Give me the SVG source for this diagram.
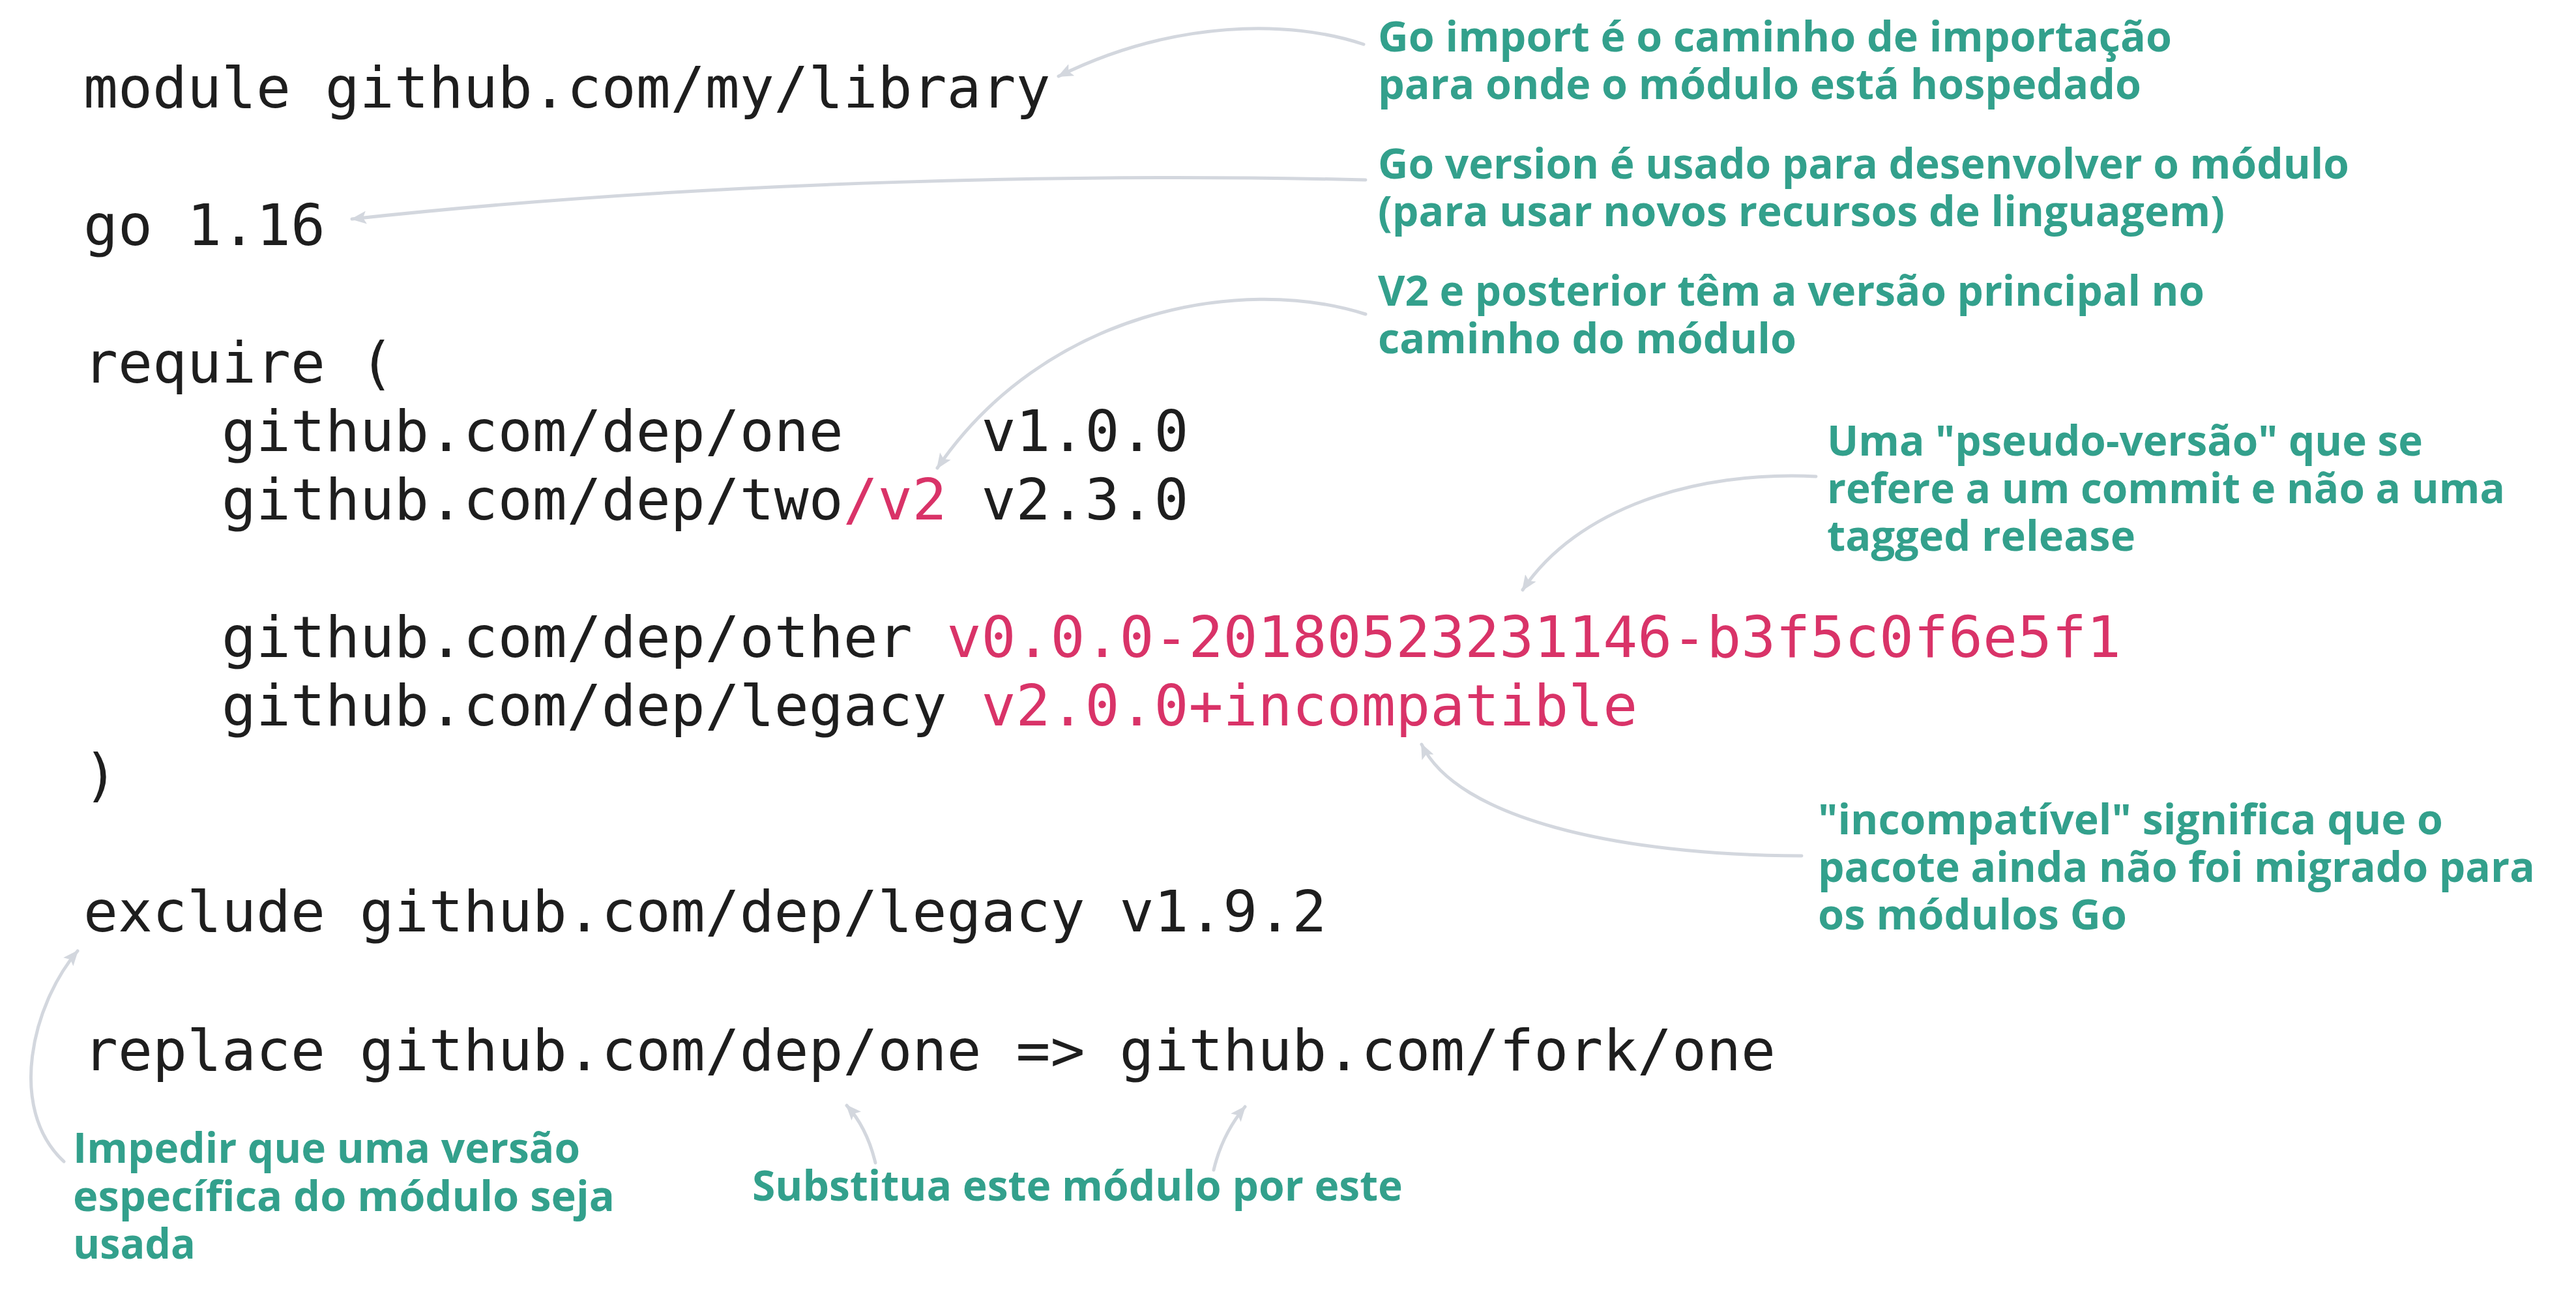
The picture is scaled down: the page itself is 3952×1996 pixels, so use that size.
<svg xmlns="http://www.w3.org/2000/svg" width="3952" height="1996" viewBox="0 0 3952 1996">
<style>
.code{font-family:"DejaVu Sans Mono","Liberation Mono",monospace;font-size:88px;fill:#1e1e1e}
.red{fill:#d93368}
.ann{font-family:"Open Sans","Noto Sans",sans-serif;font-weight:700;font-size:64px;fill:#33a08c}
.conn{fill:none;stroke:#d3d7de;stroke-width:5;stroke-linecap:round}
</style>
<defs>
<marker id="ah" viewBox="0 0 24 20" refX="22" refY="10" markerWidth="24" markerHeight="20" markerUnits="userSpaceOnUse" orient="auto">
<path d="M0,0 L24,10 L0,20 L5,10 z" fill="#d3d7de"/>
</marker>
</defs>
<rect width="3952" height="1996" fill="#ffffff"/>

<g id="code">
<text class="code" x="128" y="165">module github.com/my/library</text>
<text class="code" x="128" y="376">go 1.16</text>
<text class="code" x="128" y="587">require (</text>
<text class="code" x="340" y="692">github.com/dep/one</text>
<text class="code" x="1505.6" y="692">v1.0.0</text>
<text class="code" x="340" y="797">github.com/dep/two<tspan class="red">/v2</tspan> v2.3.0</text>
<text class="code" x="340" y="1008">github.com/dep/other <tspan class="red">v0.0.0-20180523231146-b3f5c0f6e5f1</tspan></text>
<text class="code" x="340" y="1113">github.com/dep/legacy <tspan class="red">v2.0.0+incompatible</tspan></text>
<text class="code" x="128" y="1219">)</text>
<text class="code" x="128" y="1429">exclude github.com/dep/legacy v1.9.2</text>
<text class="code" x="128" y="1642">replace github.com/dep/one =&gt; github.com/fork/one</text>
</g>

<g id="connectors">
<path class="conn" d="M2092,68 C1980,30 1800,30 1624,117" marker-end="url(#ah)"/>
<path class="conn" d="M2095,276 C1700,266 1100,275 540,336" marker-end="url(#ah)"/>
<path class="conn" d="M2095,482 C1900,420 1600,480 1438,718" marker-end="url(#ah)"/>
<path class="conn" d="M2786,731 C2600,722 2420,780 2336,905" marker-end="url(#ah)"/>
<path class="conn" d="M2764,1313 C2480,1312 2235,1255 2181,1142" marker-end="url(#ah)"/>
<path class="conn" d="M98,1782 C10,1700 50,1540 119,1459" marker-end="url(#ah)"/>
<path class="conn" d="M1343,1784 Q1330,1730 1299,1696" marker-end="url(#ah)"/>
<path class="conn" d="M1862,1795 Q1875,1740 1910,1698" marker-end="url(#ah)"/>
</g>

<g id="note-import">
<text class="ann" x="2114" y="79" textLength="1218" lengthAdjust="spacingAndGlyphs">Go import é o caminho de importação</text>
<text class="ann" x="2114" y="152" textLength="1171" lengthAdjust="spacingAndGlyphs">para onde o módulo está hospedado</text>
</g>
<g id="note-version">
<text class="ann" x="2114" y="274" textLength="1490" lengthAdjust="spacingAndGlyphs">Go version é usado para desenvolver o módulo</text>
<text class="ann" x="2114" y="347" textLength="1299" lengthAdjust="spacingAndGlyphs">(para usar novos recursos de linguagem)</text>
</g>
<g id="note-v2">
<text class="ann" x="2114" y="469" textLength="1268" lengthAdjust="spacingAndGlyphs">V2 e posterior têm a versão principal no</text>
<text class="ann" x="2114" y="542" textLength="642" lengthAdjust="spacingAndGlyphs">caminho do módulo</text>
</g>
<g id="note-pseudo">
<text class="ann" x="2803" y="699" textLength="914" lengthAdjust="spacingAndGlyphs">Uma "pseudo-versão" que se</text>
<text class="ann" x="2803" y="772" textLength="1040" lengthAdjust="spacingAndGlyphs">refere a um commit e não a uma</text>
<text class="ann" x="2803" y="845" textLength="473" lengthAdjust="spacingAndGlyphs">tagged release</text>
</g>
<g id="note-incompat">
<text class="ann" x="2789" y="1280" textLength="959" lengthAdjust="spacingAndGlyphs">"incompatível" significa que o</text>
<text class="ann" x="2789" y="1353" textLength="1100" lengthAdjust="spacingAndGlyphs">pacote ainda não foi migrado para</text>
<text class="ann" x="2789" y="1426" textLength="474" lengthAdjust="spacingAndGlyphs">os módulos Go</text>
</g>
<g id="note-exclude">
<text class="ann" x="112" y="1784" textLength="778" lengthAdjust="spacingAndGlyphs">Impedir que uma versão</text>
<text class="ann" x="112" y="1858" textLength="831" lengthAdjust="spacingAndGlyphs">específica do módulo seja</text>
<text class="ann" x="112" y="1931" textLength="188" lengthAdjust="spacingAndGlyphs">usada</text>
</g>
<g id="note-replace">
<text class="ann" x="1154" y="1842" textLength="998" lengthAdjust="spacingAndGlyphs">Substitua este módulo por este</text>
</g>
</svg>
